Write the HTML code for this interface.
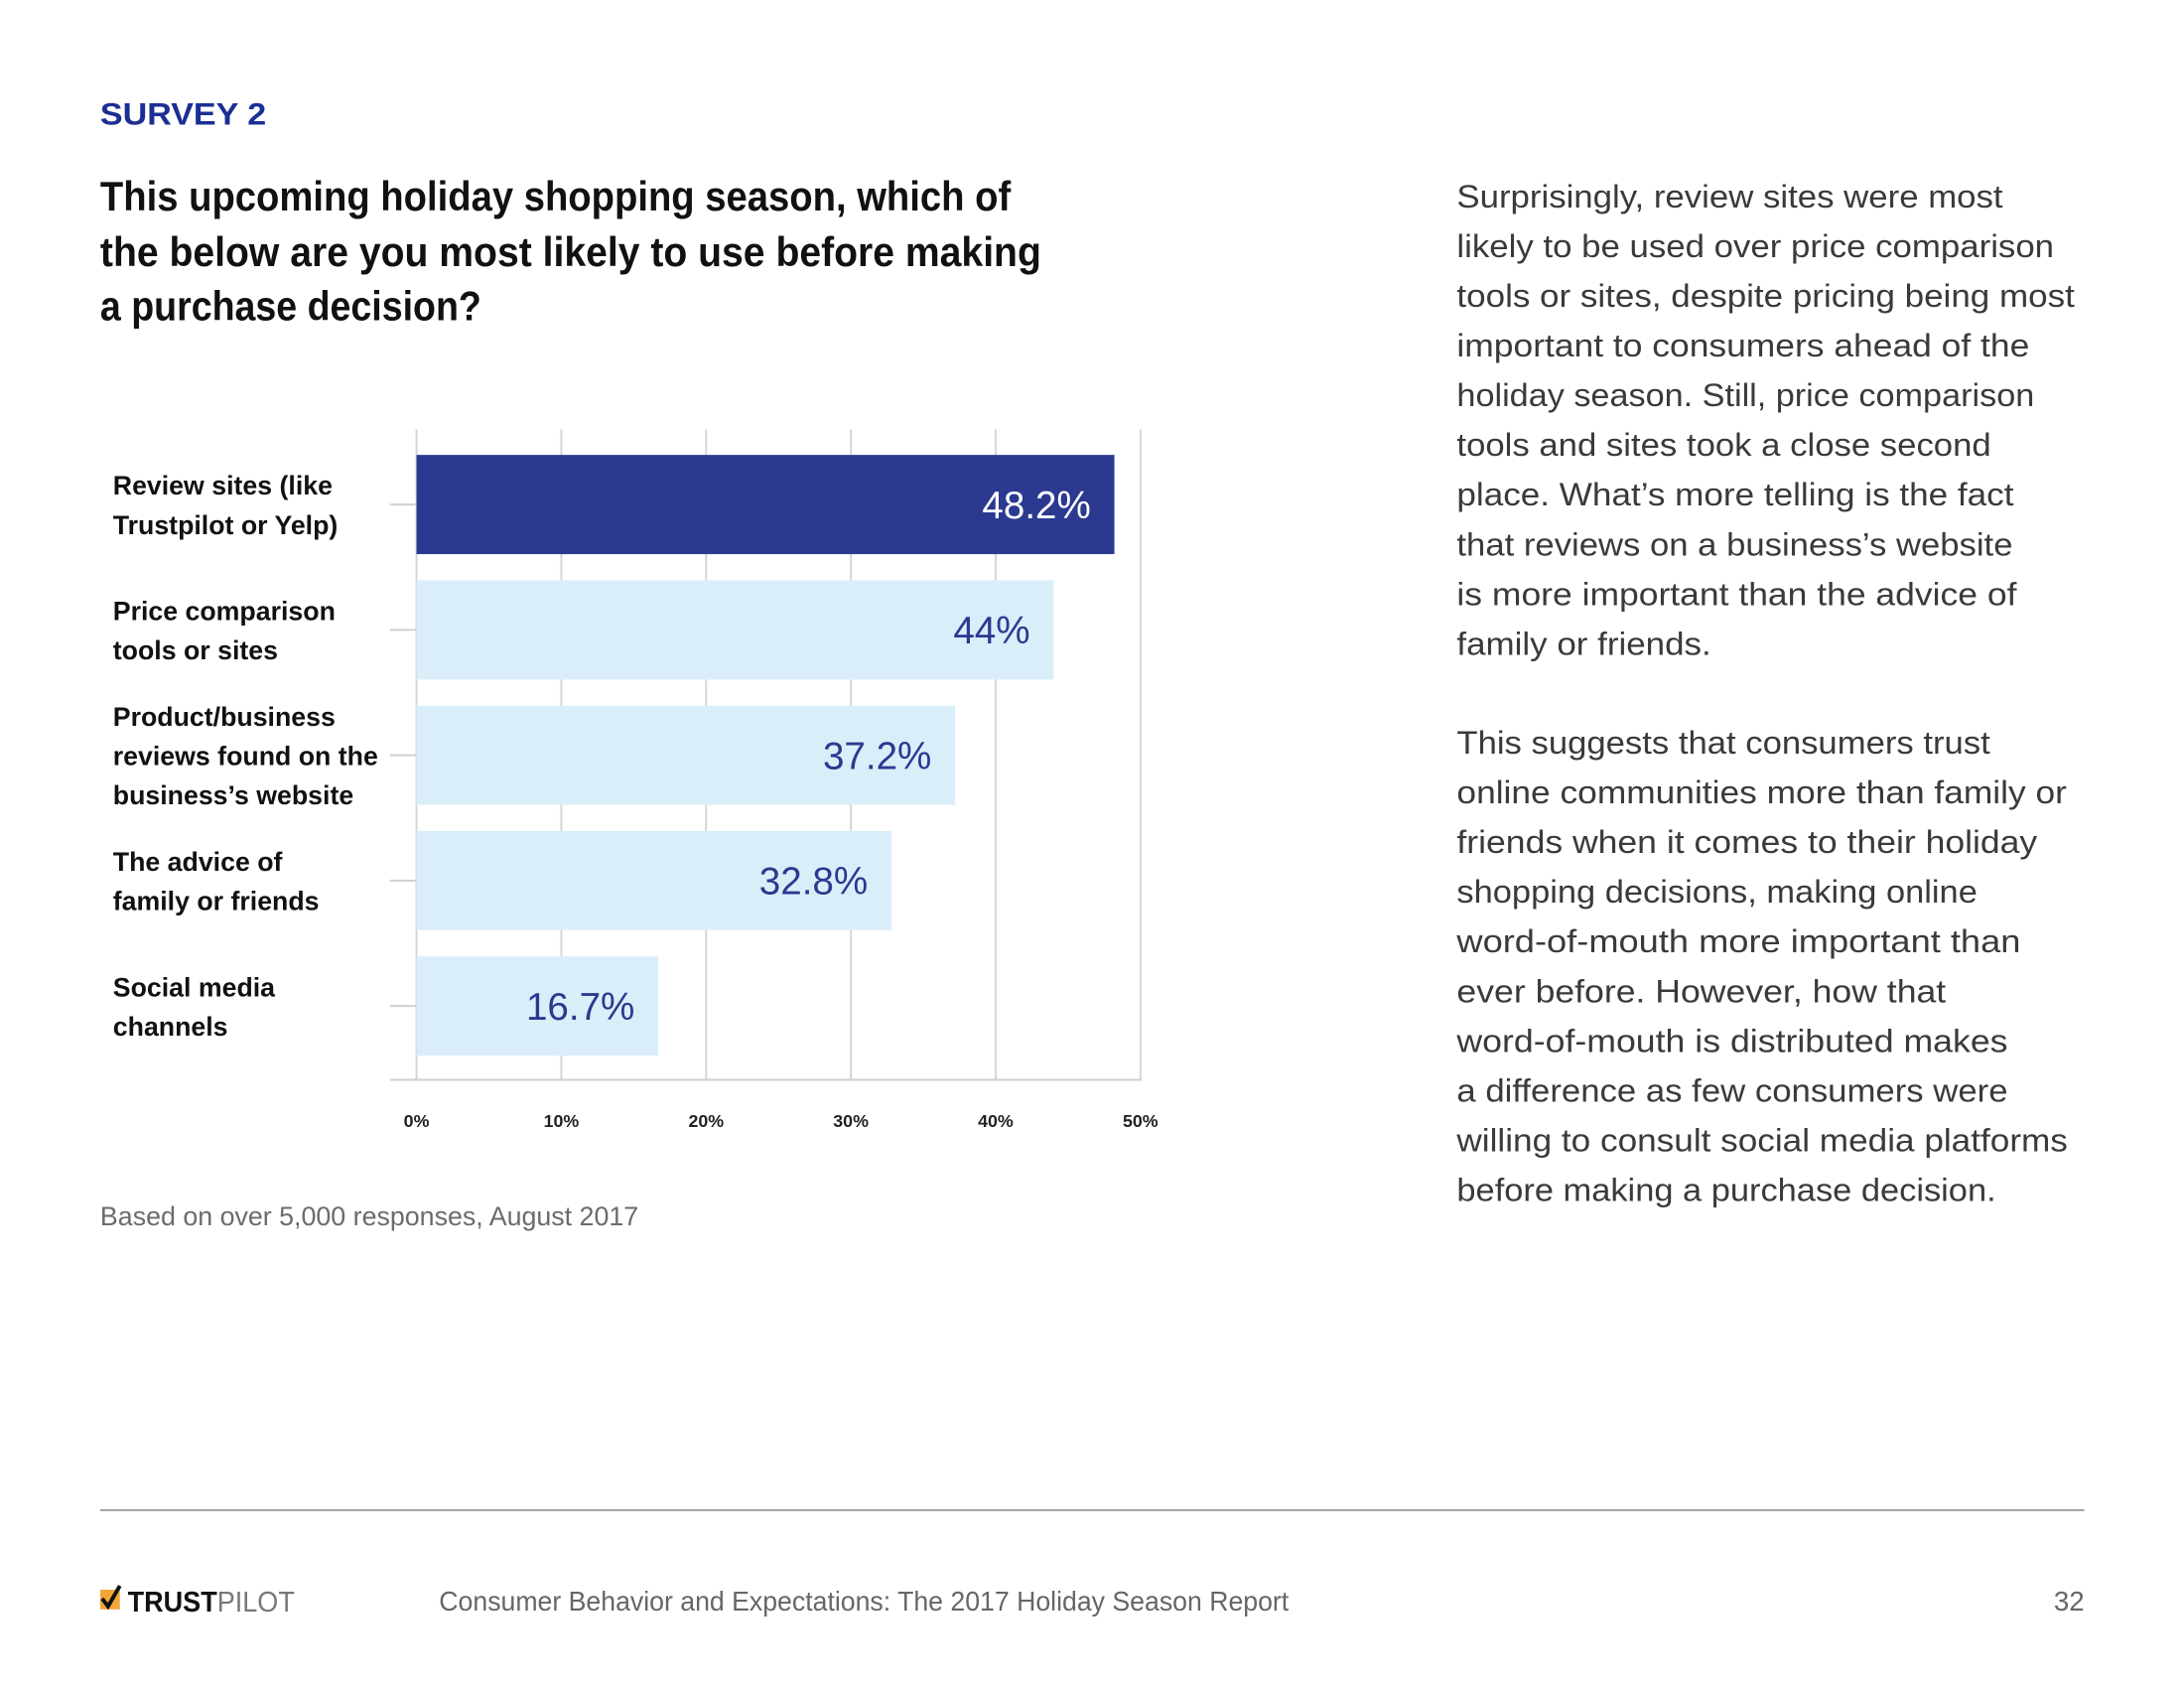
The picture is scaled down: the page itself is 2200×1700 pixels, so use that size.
<!DOCTYPE html>
<html><head><meta charset="utf-8"><style>
html,body{margin:0;padding:0;background:#fff;}
svg{display:block;}
</style></head><body>
<svg id="page" width="2200" height="1700" viewBox="0 0 2200 1700" xmlns="http://www.w3.org/2000/svg" font-family="Liberation Sans, sans-serif">
<g transform="scale(0.9895)">
<text x="102" y="127" font-size="32" font-weight="bold" fill="#1b2f94" textLength="169" lengthAdjust="spacingAndGlyphs">SURVEY 2</text>
<g font-size="42" font-weight="bold" fill="#111">
<text x="102" y="214" textLength="927" lengthAdjust="spacingAndGlyphs">This upcoming holiday shopping season, which of</text>
<text x="102" y="271" textLength="958" lengthAdjust="spacingAndGlyphs">the below are you most likely to use before making</text>
<text x="102" y="326" textLength="388" lengthAdjust="spacingAndGlyphs">a purchase decision?</text>
</g>
<g id="body-text" font-size="33" fill="#3a3a3a"></g>
<g id="chart"></g>
<text x="102" y="1247" font-size="27" fill="#6b6b6b" textLength="548" lengthAdjust="spacingAndGlyphs">Based on over 5,000 responses, August 2017</text>
<line x1="102" y1="1537" x2="2122" y2="1537" stroke="#a0a0a0" stroke-width="2"/>
<g>
<rect x="102" y="1618" width="20" height="20" fill="#f3a536"/>
<path d="M104 1627 L110 1635 L122 1614" stroke="#111" stroke-width="4" fill="none"/>
<text x="130" y="1640" font-size="29" font-weight="bold" fill="#111" textLength="170" lengthAdjust="spacingAndGlyphs">TRUST<tspan fill="#777" font-weight="normal">PILOT</tspan></text>
</g>
<text x="447" y="1639" font-size="28" fill="#666" textLength="865" lengthAdjust="spacingAndGlyphs">Consumer Behavior and Expectations: The 2017 Holiday Season Report</text>
<text x="2122" y="1639" font-size="28" fill="#666" text-anchor="end">32</text>
</g>
</svg>
<script>
const categories = [
  ["Review sites (like","Trustpilot or Yelp)"],
  ["Price comparison","tools or sites"],
  ["Product/business","reviews found on the","business’s website"],
  ["The advice of","family or friends"],
  ["Social media","channels"]
];
const values = [48.2, 44, 37.2, 32.8, 16.7];
const valueLabels = ["48.2%","44%","37.2%","32.8%","16.7%"];
const tickValues = [0,10,20,30,40,50];
const tickLabels = ["0%","10%","20%","30%","40%","50%"];

const NS="http://www.w3.org/2000/svg";
function mk(tag, attrs, parent){const e=document.createElementNS(NS,tag);for(const k in attrs)e.setAttribute(k,attrs[k]);parent.appendChild(e);return e;}

const bodyLines=[
 ["Surprisingly, review sites were most",1438],
 ["likely to be used over price comparison",1475],
 ["tools or sites, despite pricing being most",1490],
 ["important to consumers ahead of the",1457],
 ["holiday season. Still, price comparison",1461],
 ["tools and sites took a close second",1430],
 ["place. What’s more telling is the fact",1446],
 ["that reviews on a business’s website",1445],
 ["is more important than the advice of",1448],
 ["family or friends.",1229],
 ["This suggests that consumers trust",1429],
 ["online communities more than family or",1484],
 ["friends when it comes to their holiday",1463],
 ["shopping decisions, making online",1420],
 ["word-of-mouth more important than",1451],
 ["ever before. However, how that",1397],
 ["word-of-mouth is distributed makes",1442],
 ["a difference as few consumers were",1442],
 ["willing to consult social media platforms",1485],
 ["before making a purchase decision.",1433]
];
const bt=document.getElementById('body-text');
bodyLines.forEach((l,i)=>{
  const y = i<10 ? 211+i*50.6 : 767+(i-10)*50.6;
  const t=mk('text',{x:1483,y:y,textLength:((l[1]-1046)*1.4175).toFixed(0),lengthAdjust:'spacingAndGlyphs'},bt);
  
  
  t.textContent=l[0];
});

const g=document.getElementById('chart');
const x0=424, x1=1161, maxV=50;
const xs=v=>x0+(v/maxV)*(x1-x0);
const top0=437, axisY=1099, band=127.6, barH=101, firstBar=463;
tickValues.forEach((v,i)=>{
  const ln=mk('line',{x1:xs(v),x2:xs(v),y1:top0,y2:axisY,stroke:'#d6d6d6','stroke-width':2},g);
  
  
  const t=mk('text',{x:xs(v),y:1147,'font-size':18,'font-weight':'bold','text-anchor':'middle',fill:'#222'},g);
  
  
  t.textContent=tickLabels[i];
});
const ax=mk('line',{x1:397,x2:1162,y1:axisY,y2:axisY,stroke:'#d0d0d0','stroke-width':2},g);


values.forEach((v,i)=>{
  const y=firstBar+i*band, cy=y+barH/2;
  const tk=mk('line',{x1:397,x2:423,y1:cy,y2:cy,stroke:'#d0d0d0','stroke-width':2},g);
  
  
  const r=mk('rect',{x:x0,y:y,width:xs(v)-x0,height:barH,fill:i===0?'#2b3990':'#daeef9'},g);
  
  
  const vt=mk('text',{x:xs(v)-24,y:cy+14,'font-size':39,'text-anchor':'end',fill:i===0?'#ffffff':'#2b3990'},g);
  
  
  vt.textContent=valueLabels[i];
  const lines=categories[i];
  const start=cy-(lines.length-1)*20;
  lines.forEach((s,j)=>{
    const lt=mk('text',{x:115,y:start+j*40+10,'font-size':27,'font-weight':'bold',fill:'#111'},g);
    
    
    lt.textContent=s;
  });
});
</script>
</body></html>
